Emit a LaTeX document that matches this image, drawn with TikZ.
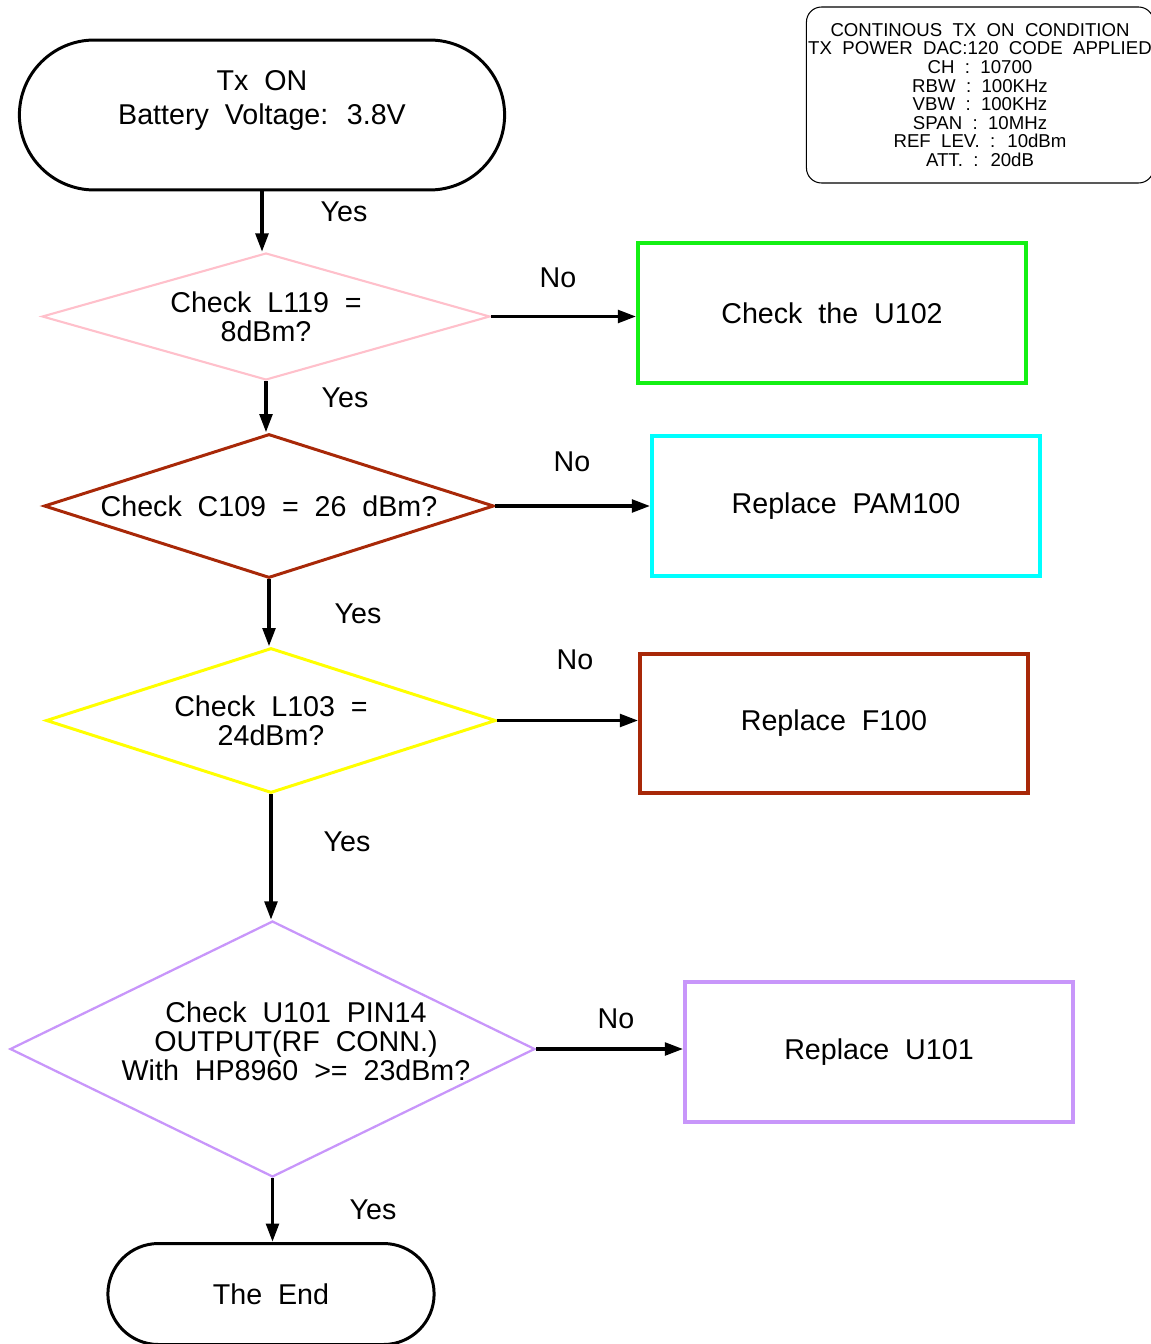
\documentclass[tikz,border=0pt]{standalone}
\usepackage{fontspec}
\setmainfont{Liberation Sans}[WordSpace=2]
\usetikzlibrary{shapes.geometric,shapes.misc,arrows.meta}

\definecolor{pinkline}{RGB}{255,192,203}
\definecolor{rustline}{RGB}{168,40,8}
\definecolor{yellowline}{RGB}{255,255,0}
\definecolor{lilacline}{RGB}{200,150,250}
\definecolor{greenline}{RGB}{20,240,20}
\definecolor{cyanline}{RGB}{0,255,255}

\tikzstyle{terminal} = [
rounded rectangle,
draw=black,
line width=1.7pt,
align=center,
font=\fontsize{16.3}{19.9}\selectfont
]
\tikzstyle{decision} = [
diamond,
inner sep=0pt,
line width=1.7pt,
align=center,
font=\fontsize{16.3}{16.5}\selectfont
]
\tikzstyle{action} = [
rectangle,
minimum width=7.76cm,
minimum height=2.8cm,
line width=2pt,
font=\fontsize{16.3}{16.5}\selectfont
]
\tikzstyle{answer} = [
font=\fontsize{16.3}{16.5}\selectfont
]
\tikzstyle{setup} = [
rectangle,
rounded corners=0.3cm,
draw=black,
line width=0.6pt,
inner sep=1pt,
minimum width=6.88cm,
minimum height=3.52cm,
align=center,
font=\fontsize{10.6}{10.6}\selectfont
]
\tikzstyle{arrow} = [
line width=2.2pt,
-{Triangle[length=0.37cm,width=0.25cm]}
]

\begin{document}
\begin{tikzpicture}[
x=0.02cm,
y=-0.02cm
]

\useasboundingbox (0,0) rectangle (1151,1344);

\node (start) [terminal, minimum width=9.94cm, minimum height=3cm] at (262,115)
{Tx ON\\Battery Voltage: 3.8V\\\mbox{}};

\node (setup) [setup] at (980,95)
{CONTINOUS TX ON CONDITION\\TX POWER DAC:120 CODE APPLIED\\CH : 10700\\RBW : 100KHz\\VBW : 100KHz\\SPAN : 10MHz\\REF LEV. : 10dBm\\ATT. : 20dB};

\node (d1) [decision, draw=pinkline, line width=1.2pt, shape aspect=3.5,
minimum width=8.96cm, minimum height=2.54cm] at (266,316.5)
{Check L119 =\\8dBm?};

\node (d2) [decision, draw=rustline, shape aspect=3.2,
minimum width=9cm, minimum height=2.88cm] at (269,506)
{Check C109 = 26 dBm?};

\node (d3) [decision, draw=yellowline, shape aspect=3.3,
minimum width=9cm, minimum height=2.9cm] at (271,720.5)
{Check L103 =\\24dBm?};

\node (d4) [decision, draw=lilacline, line width=1.3pt,
minimum width=10.5cm, minimum height=5.12cm] at (272.5,1049) {};

\node (d4text) [answer, align=center] at (296,1041)
{Check U101 PIN14\\OUTPUT(RF CONN.)\\With HP8960 >= 23dBm?};

\node (end) [terminal, minimum width=6.76cm, minimum height=2.02cm] at (271,1294)
{The End};

\node (u102) [action, draw=greenline] at (832,313) {Check the U102};

\node (pam100) [action, draw=cyanline] at (846,506) {Replace PAM100};

\node (f100) [action, draw=rustline, minimum height=2.78cm] at (834,723.5) {Replace F100};

\node (u101) [action, draw=lilacline] at (879,1052) {Replace U101};

% answers
\node (yes1) [answer] at (344,212) {Yes};
\node (no1) [answer] at (558,278) {No};
\node (yes2) [answer] at (345,398) {Yes};
\node (no2) [answer] at (572,462) {No};
\node (yes3) [answer] at (358,614) {Yes};
\node (no3) [answer] at (575,660) {No};
\node (yes4) [answer] at (347,842) {Yes};
\node (no4) [answer] at (616,1019) {No};
\node (yes5) [answer] at (373,1210) {Yes};

\draw [arrow] (start.south) -- (start.south |- d1.north);

\draw [arrow] (d1.south) -- (d1.south |- d2.north);

\draw [arrow] (d2.south) -- (d2.south |- d3.north);

\draw [arrow] (d3.south) -- (d3.south |- d4.north);

\draw [arrow] (d4.south) -- (d4.south |- end.north);

\draw [arrow] (d1.east) -- (d1.east -| u102.west);

\draw [arrow] (d2.east) -- (d2.east -| pam100.west);

\draw [arrow] (d3.east) -- (d3.east -| f100.west);

\draw [arrow] (d4.east) -- (d4.east -| u101.west);

\end{tikzpicture}
\end{document}
